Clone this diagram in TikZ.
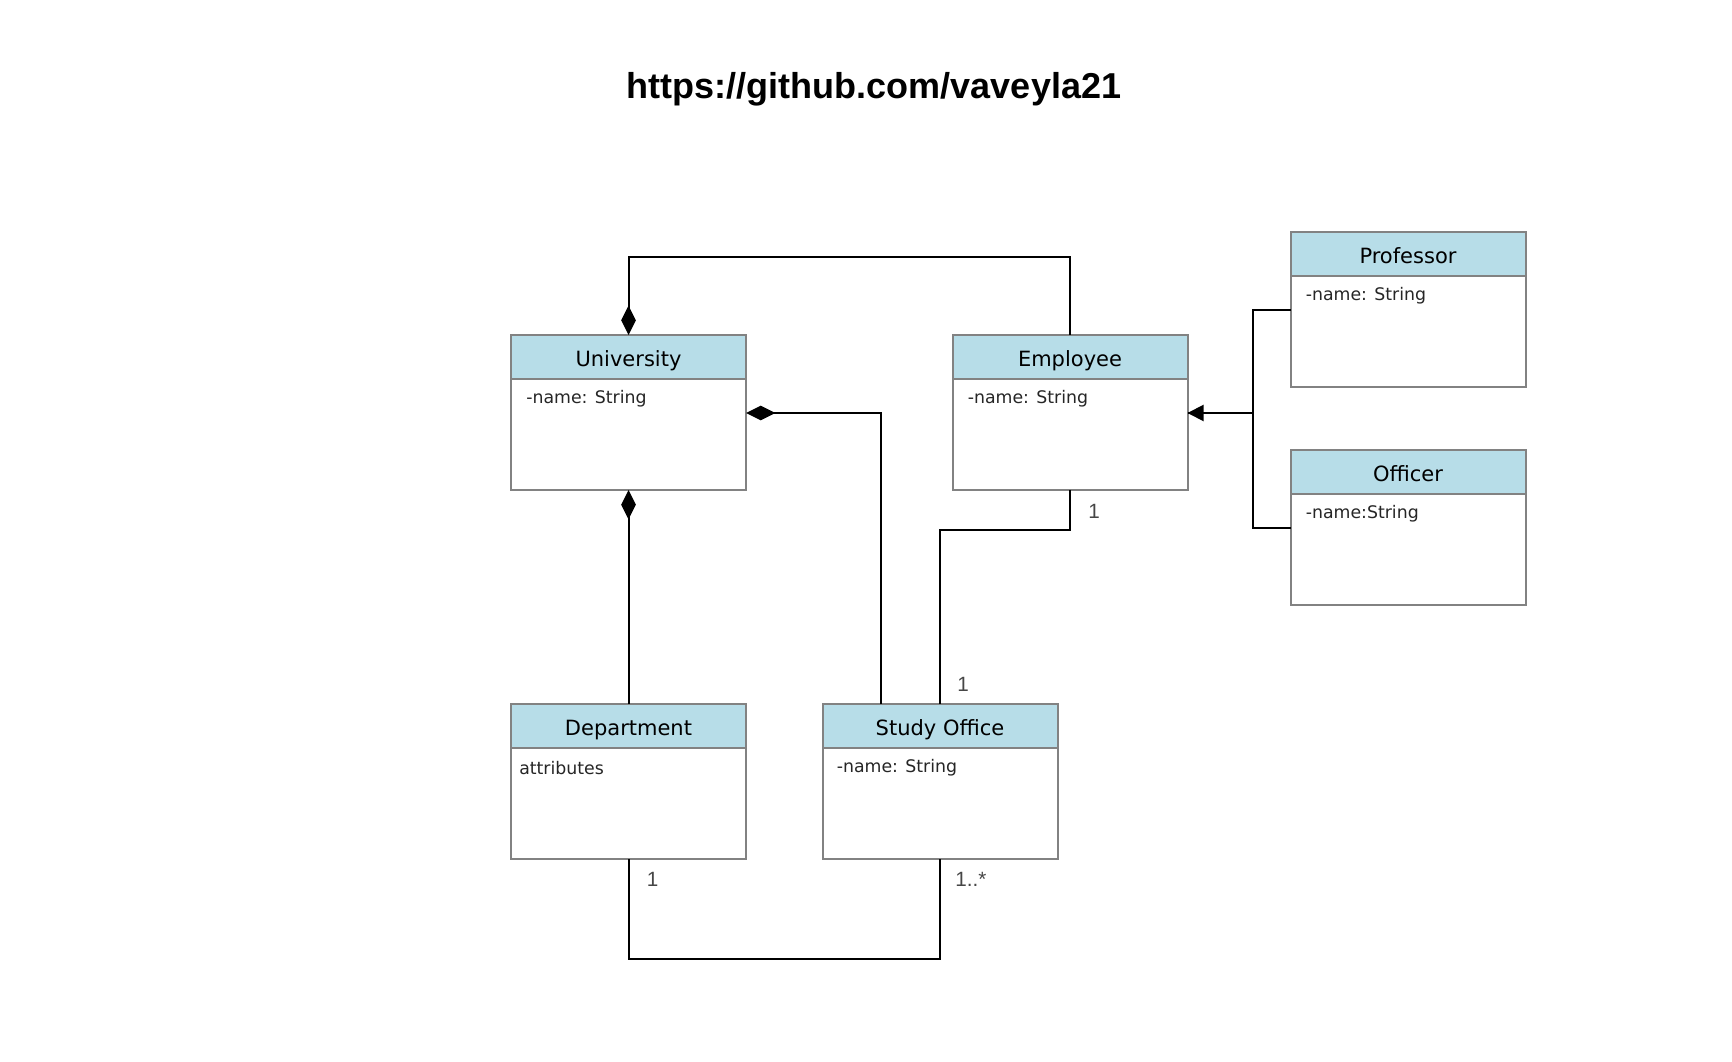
\documentclass[tikz,border=0pt]{standalone}
\usepackage{fontspec}
\setmainfont{DejaVu Sans}
\newfontfamily\arialfont{Liberation Sans}
\usetikzlibrary{positioning,arrows.meta,calc}
\definecolor{headblue}{RGB}{183,221,232}
\definecolor{boxgray}{RGB}{130,130,130}
\definecolor{multgray}{RGB}{70,70,70}
\begin{document}
\begin{tikzpicture}[x=0.75pt,y=-0.75pt,
  head/.style={draw=boxgray,line width=1.5pt,fill=headblue,minimum width=176.25pt,minimum height=33pt,inner sep=0pt,outer sep=0pt,text height=16pt,text depth=1.2pt,font=\fontsize{15.75}{18}\selectfont},
  body/.style={draw=boxgray,line width=1.5pt,fill=white,minimum width=176.25pt,minimum height=83.25pt,inner sep=0pt,outer sep=0pt,below=0pt of #1},
  attr/.style={anchor=west,inner sep=0pt,text=black!85,font=\fontsize{13}{15}\selectfont},
  mult/.style={inner sep=0pt,text=multgray,font=\arialfont\fontsize{15.5}{18}\selectfont},
  assoc/.style={draw,line width=1.5pt},
  comp/.style={assoc,-{Diamond[length=22pt,width=11pt]}},
  gen/.style={assoc,-{Triangle[length=12pt,width=12pt]}}]
\useasboundingbox (0,0) rectangle (1732,1062);
\node[font=\arialfont\bfseries\fontsize{27}{32}\selectfont] (title) at (874,89) {https://github.com/vaveyla21};

\node[head] (uni) at (628.5,357) {University};
\node[body=uni] (unib) {};
\node[attr] (unia) at ($(unib.north west)+(15,20)$) {-name: String};

\node[head] (emp) at (1070,357) {Employee};
\node[body=emp] (empb) {};
\node[attr] (empa) at ($(empb.north west)+(15,20)$) {-name: String};

\node[head] (prof) at (1408,254) {Professor};
\node[body=prof] (profb) {};
\node[attr] (profa) at ($(profb.north west)+(15,20)$) {-name: String};

\node[head] (off) at (1408,472) {Officer};
\node[body=off] (offb) {};
\node[attr] (offa) at ($(offb.north west)+(15,20)$) {-name:String};

\node[head] (dep) at (628.5,726) {Department};
\node[body=dep] (depb) {};
\node[attr] (depa) at ($(depb.north west)+(8,20)$) {attributes};

\node[head] (sto) at (940,726) {Study Office};
\node[body=sto] (stob) {};
\node[attr] (stoa) at ($(stob.north west)+(14,20)$) {-name: String};

\draw[comp] (emp.north) -- ++(0,-78) -| (uni.north);
\draw[comp] ($(sto.north west)+(58,0)$) |- ($(unib.north east)+(0,34)$);
\draw[comp] (dep.north) -- (unib.south);
\draw[assoc] (empb.south) -- ++(0,40) -| (sto.north);
\draw[assoc] (depb.south) -- ++(0,100) -| (stob.south);
\draw[gen] ($(profb.north west)+(0,34)$) -- ++(-38,0) |- ($(empb.north east)+(0,34)$);
\draw[assoc] ($(offb.north west)+(0,34)$) -- ++(-38,0) |- ($(empb.north east)+(0,34)$);

\node[mult] (m1) at ($(empb.south)+(24,21)$) {1};
\node[mult] (m2) at ($(sto.north)+(23,-20)$) {1};
\node[mult] (m3) at ($(depb.south)+(24,20)$) {1};
\node[mult] (m4) at ($(stob.south)+(31,20)$) {1..*};
\end{tikzpicture}
\end{document}
